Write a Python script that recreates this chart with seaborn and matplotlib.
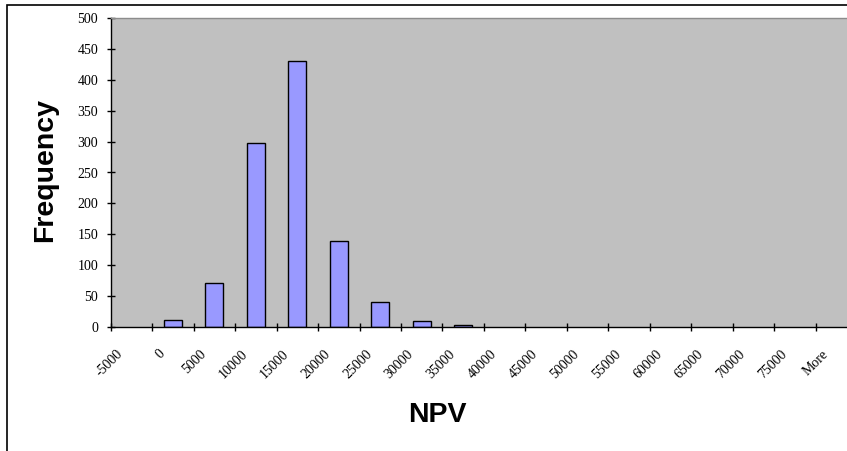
import matplotlib
matplotlib.use("Agg")
import matplotlib.pyplot as plt
import matplotlib.transforms as mtransforms
from matplotlib.patches import Rectangle
from matplotlib.ticker import FixedLocator
import seaborn as sns
import pandas as pd

# Histogram bins (upper bin limits) and their counts
bins = ["-5000", "0", "5000", "10000", "15000", "20000", "25000", "30000", "35000",
        "40000", "45000", "50000", "55000", "60000", "65000", "70000", "75000", "More"]
counts = [0, 11, 71, 298, 430, 139, 40, 9, 2, 0, 0, 0, 0, 0, 0, 0, 0, 0]
y_ticks = [0, 50, 100, 150, 200, 250, 300, 350, 400, 450, 500]

df = pd.DataFrame({"NPV": bins, "Frequency": counts})

sns.set_style("white")
plt.rcParams["font.family"] = ["DejaVu Sans"]
plt.rcParams["text.color"] = "black"
plt.rcParams["xtick.color"] = "black"
plt.rcParams["ytick.color"] = "black"

W, H, DPI = 847, 451, 100
fig = plt.figure(figsize=(W / DPI, H / DPI), dpi=DPI)

# plot area (extends past the right edge of the figure)
left_px, top_px, base_px, slot_px = 110.7, 18.3, 326.7, 41.47
n = len(bins)
ax = fig.add_axes([left_px / W, 1 - base_px / H, n * slot_px / W, (base_px - top_px) / H])
ax.set_facecolor("#C0C0C0")

sns.barplot(data=df, x="NPV", y="Frequency", order=bins, color="#9999FF",
            saturation=1, width=0.43, edgecolor="black", linewidth=1.0, ax=ax)
# empty bins draw nothing
for p in ax.patches:
    if p.get_height() == 0:
        p.set_visible(False)

ax.set_xlim(-0.5, n - 0.5)
ax.set_ylim(0, 500)
ax.set_yticks(y_ticks)
ax.set_yticklabels([str(v) for v in y_ticks], family="Liberation Serif", fontsize=10)

# category boundaries carry the tick marks, labels sit at category centres
ax.set_xticks(range(n))
ax.xaxis.set_minor_locator(FixedLocator([i - 0.5 for i in range(n + 1)]))
ax.tick_params(axis="x", which="major", bottom=True, length=0, pad=14.8)
ax.tick_params(axis="x", which="minor", bottom=True, direction="inout",
               length=6, width=1, color="black")
ax.tick_params(axis="y", which="major", left=True, direction="inout",
               length=6, width=1, color="black", pad=6)
ax.set_xticklabels(bins, family="Liberation Serif", fontsize=10,
                   rotation=45, ha="right", va="top", rotation_mode="anchor")
shift = mtransforms.ScaledTranslation(-15 / DPI, 0, fig.dpi_scale_trans)
for lbl in ax.get_xticklabels():
    lbl.set_transform(lbl.get_transform() + shift)

for side in ["left", "bottom"]:
    ax.spines[side].set_color("black")
    ax.spines[side].set_linewidth(1.0)
ax.spines["top"].set_color("#8C8C8C")
ax.spines["top"].set_linewidth(1.0)
ax.spines["right"].set_visible(False)

ax.set_xlabel("")
ax.set_ylabel("")

fig.text(45.5 / W, 1 - 170 / H, "Frequency", rotation=90, ha="center", va="center",
         family="Liberation Sans", fontweight="bold", fontsize=20.5, color="black")
fig.text(437 / W, 1 - 415 / H, "NPV", ha="center", va="center",
         family="Liberation Sans", fontweight="bold", fontsize=20.5, color="black")

# chart frame
frame = Rectangle((7 / W, -0.1), 1.2, 1 - 5 / H + 0.1, transform=fig.transFigure,
                  fill=False, edgecolor="black", linewidth=1.2)
fig.patches.append(frame)

fig.savefig("out.png", dpi=DPI, facecolor="white")
